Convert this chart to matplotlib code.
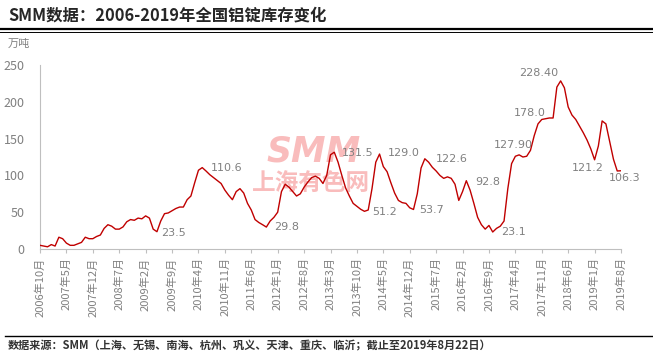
import numpy as np
import matplotlib
matplotlib.use('Agg')
import matplotlib.pyplot as plt
from matplotlib.lines import Line2D

plt.rcParams['font.family'] = ['Noto Sans CJK SC', 'DejaVu Sans']

# monthly stock, 10k tonnes, month 0 = 2006-10
stock = [5, 4, 3, 6, 4, 16, 14, 8, 5, 5,
         7, 9, 16, 14, 14, 17, 19, 28, 33, 31,
         27, 27, 30, 37, 40, 39, 42, 41, 45, 42,
         27, 23.5, 38, 48, 49, 52, 55, 57, 57, 67,
         72, 90, 107, 110.6, 106, 101, 97, 93, 89, 80,
         73, 67, 78, 82, 76, 62, 53, 40, 36, 33,
         29.8, 38, 43, 50, 78, 88, 84, 78, 72, 75,
         84, 91, 97, 99, 96, 89, 100, 128, 131.5, 118,
         100, 83, 72, 62, 58, 54, 51.2, 53, 82, 118,
         129, 112, 105, 90, 76, 66, 63, 62, 56, 53.7,
         75, 110, 122.6, 118, 111, 106, 100, 96, 98, 96,
         88, 66, 78, 92.8, 80, 62, 43, 33, 27, 32,
         23.1, 28, 31, 38, 82, 116, 126, 127.9, 125, 126,
         134, 154, 170, 176, 177, 178, 178, 220, 228.4, 219,
         193, 182, 176, 167, 158, 148, 136, 121.2, 140, 174,
         170, 146, 122, 106, 106.3]

tick_labels = ['2006年10月', '2007年5月', '2007年12月', '2008年7月', '2009年2月',
               '2009年9月', '2010年4月', '2010年11月', '2011年6月', '2012年1月',
               '2012年8月', '2013年3月', '2013年10月', '2014年5月', '2014年12月',
               '2015年7月', '2016年2月', '2016年9月', '2017年4月', '2017年11月',
               '2018年6月', '2019年1月', '2019年8月']

# annotations: text, month, value
notes = [('23.5', 35.3, 22), ('110.6', 49.6, 109.6), ('29.8', 65.4, 30.3),
         ('131.5', 84.1, 130), ('51.2', 91.4, 50.7), ('129.0', 96.5, 130),
         ('53.7', 103.8, 53), ('122.6', 109.1, 121.8), ('92.8', 118.6, 91.5),
         ('23.1', 125.5, 23.5), ('127.90', 125.5, 141.3), ('178.0', 129.7, 184.4),
         ('228.40', 132.3, 238.7), ('121.2', 145.3, 109.6), ('106.3', 155.0, 96.9)]

grey = '#808080'

fig = plt.figure(figsize=(6.53, 3.57), dpi=100, facecolor='white')
ax = fig.add_axes([40 / 653, 1 - 249 / 357, 581 / 653, 184 / 357])

# watermark, behind the line
ax.text(314 / 653, 1 - 151 / 357, 'SMM', transform=fig.transFigure, ha='center', va='center',
        fontsize=25, fontweight='bold', style='italic', color='#f9bcbc', family='DejaVu Sans',
        zorder=1)
ax.text(311 / 653, 1 - 183 / 357, '上海有色网', transform=fig.transFigure, ha='center',
        va='center', fontsize=17, fontweight='bold', color='#f9bcbc', zorder=1)

x = np.arange(len(stock))
ax.plot(x, stock, color='#c00000', linewidth=1.0, zorder=3)

ax.set_xlim(0, 154)
ax.set_ylim(0, 250)
ax.set_xticks(np.arange(0, 155, 7))
ax.set_xticklabels(tick_labels, rotation=90, fontsize=8, color=grey)
ax.set_yticks(np.arange(0, 251, 50))
ax.tick_params(axis='y', labelsize=9, labelcolor=grey, length=0, pad=11)
ax.tick_params(axis='x', length=3, color='#bfbfbf', pad=3)
for s in ['top', 'right']:
    ax.spines[s].set_visible(False)
ax.spines['left'].set_color('#bfbfbf')
ax.spines['bottom'].set_color('#bfbfbf')

for txt, m, v in notes:
    ax.text(m, v, txt, ha='center', va='center', fontsize=8, color=grey,
            clip_on=False, family='DejaVu Sans', zorder=4)

# header / footer
fig.text(8 / 653, 1 - 16 / 357, 'SMM数据：2006-2019年全国铝锭库存变化', ha='left', va='center',
         fontsize=11.8, fontweight='bold', color='#262626')
fig.add_artist(Line2D([0, 1], [1 - 29 / 357] * 2, color='black', linewidth=1.6))
fig.add_artist(Line2D([0, 1], [1 - 32 / 357] * 2, color='black', linewidth=0.7))
fig.text(8 / 653, 1 - 44 / 357, '万吨', ha='left', va='center', fontsize=8, color=grey)
fig.add_artist(Line2D([5 / 653, 1], [1 - 336 / 357] * 2, color='black', linewidth=1.0))
fig.text(8 / 653, 1 - 346 / 357,
         '数据来源：SMM（上海、无锡、南海、杭州、巩义、天津、重庆、临沂；截止至2019年8月22日）',
         ha='left', va='center', fontsize=8, fontweight='bold', style='italic', color='#333333')

fig.savefig('out.png', dpi=100, facecolor='white')
